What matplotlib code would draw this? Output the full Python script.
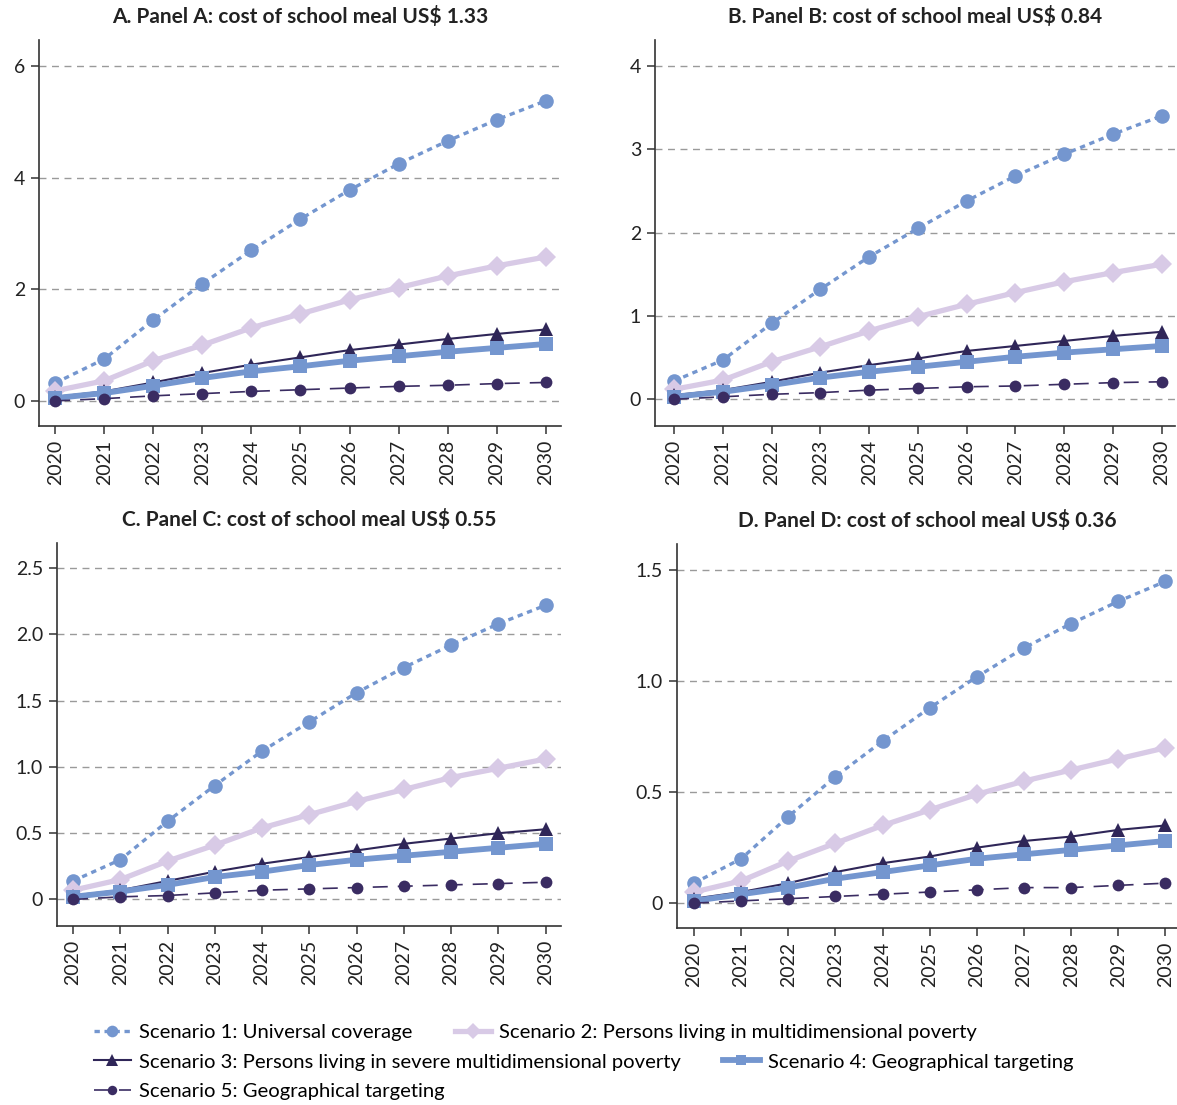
import matplotlib
matplotlib.use("Agg")
import matplotlib.pyplot as plt
from matplotlib.lines import Line2D

plt.rcParams['font.family'] = ['Lato', 'DejaVu Sans']

years = list(range(2020, 2031))

# Panel A: cost of school meal US$ 1.33
a_s1 = [0.32, 0.75, 1.45, 2.10, 2.70, 3.26, 3.78, 4.25, 4.66, 5.04, 5.38]
a_s2 = [0.18, 0.36, 0.72, 1.00, 1.31, 1.56, 1.81, 2.03, 2.24, 2.42, 2.58]
a_s3 = [0.07, 0.17, 0.33, 0.50, 0.65, 0.78, 0.91, 1.01, 1.11, 1.20, 1.28]
a_s4 = [0.05, 0.14, 0.27, 0.41, 0.53, 0.62, 0.72, 0.80, 0.88, 0.95, 1.02]
a_s5 = [0.00, 0.04, 0.09, 0.13, 0.17, 0.20, 0.23, 0.26, 0.28, 0.31, 0.33]

# Panel B: US$ 0.84
b_s1 = [0.22, 0.47, 0.91, 1.32, 1.71, 2.05, 2.38, 2.68, 2.94, 3.18, 3.40]
b_s2 = [0.12, 0.23, 0.45, 0.63, 0.82, 0.99, 1.14, 1.28, 1.41, 1.52, 1.62]
b_s3 = [0.05, 0.11, 0.21, 0.32, 0.41, 0.49, 0.58, 0.64, 0.70, 0.76, 0.81]
b_s4 = [0.03, 0.09, 0.17, 0.26, 0.33, 0.39, 0.45, 0.51, 0.56, 0.60, 0.64]
b_s5 = [0.00, 0.03, 0.06, 0.08, 0.11, 0.13, 0.15, 0.16, 0.18, 0.20, 0.21]

# Panel C: US$ 0.55
c_s1 = [0.14, 0.30, 0.59, 0.86, 1.12, 1.34, 1.56, 1.75, 1.92, 2.08, 2.22]
c_s2 = [0.07, 0.15, 0.29, 0.41, 0.54, 0.64, 0.74, 0.83, 0.92, 0.99, 1.06]
c_s3 = [0.03, 0.07, 0.14, 0.21, 0.27, 0.32, 0.37, 0.42, 0.46, 0.50, 0.53]
c_s4 = [0.02, 0.06, 0.11, 0.17, 0.21, 0.26, 0.30, 0.33, 0.36, 0.39, 0.42]
c_s5 = [0.00, 0.02, 0.03, 0.05, 0.07, 0.08, 0.09, 0.10, 0.11, 0.12, 0.13]

# Panel D: US$ 0.36
d_s1 = [0.09, 0.20, 0.39, 0.57, 0.73, 0.88, 1.02, 1.15, 1.26, 1.36, 1.45]
d_s2 = [0.05, 0.10, 0.19, 0.27, 0.35, 0.42, 0.49, 0.55, 0.60, 0.65, 0.70]
d_s3 = [0.02, 0.05, 0.09, 0.14, 0.18, 0.21, 0.25, 0.28, 0.30, 0.33, 0.35]
d_s4 = [0.01, 0.04, 0.07, 0.11, 0.14, 0.17, 0.20, 0.22, 0.24, 0.26, 0.28]
d_s5 = [0.00, 0.01, 0.02, 0.03, 0.04, 0.05, 0.06, 0.07, 0.07, 0.08, 0.09]

titles = ["A. Panel A: cost of school meal US$ 1.33",
          "B. Panel B: cost of school meal US$ 0.84",
          "C. Panel C: cost of school meal US$ 0.55",
          "D. Panel D: cost of school meal US$ 0.36"]

labels = ["Scenario 1: Universal coverage",
          "Scenario 2: Persons living in multidimensional poverty",
          "Scenario 3: Persons living in severe multidimensional poverty",
          "Scenario 4: Geographical targeting",
          "Scenario 5: Geographical targeting"]

# line styles per scenario
styles = [
    dict(color="#7496cf", lw=2.4, ls=(0, (1.6, 1.4)), marker="o", ms=10.5),
    dict(color="#d8cae6", lw=3.8, ls="-", marker="D", ms=10.5),
    dict(color="#2f2658", lw=1.5, ls="-", marker="^", ms=10.5),
    dict(color="#7496cf", lw=4.2, ls="-", marker="s", ms=9.5),
    dict(color="#3a2c62", lw=1.2, ls=(0, (9, 6)), marker="o", ms=8.5),
]

panels = [
    dict(data=[a_s1, a_s2, a_s3, a_s4, a_s5], pos=[0.0331, 0.6145, 0.4435, 0.3493],
         ylim=(-0.45, 6.47), yticks=[0, 2, 4, 6], ylabels=["0", "2", "4", "6"],
         xlim=(2019.67, 2030.31)),
    dict(data=[b_s1, b_s2, b_s3, b_s4, b_s5], pos=[0.5565, 0.6145, 0.4418, 0.3493],
         ylim=(-0.32, 4.31), yticks=[0, 1, 2, 3, 4], ylabels=["0", "1", "2", "3", "4"],
         xlim=(2019.61, 2030.27)),
    dict(data=[c_s1, c_s2, c_s3, c_s4, c_s5], pos=[0.0484, 0.162, 0.428, 0.3466],
         ylim=(-0.2, 2.69), yticks=[0, 0.5, 1, 1.5, 2, 2.5],
         ylabels=["0", "0.5", "1.0", "1.5", "2.0", "2.5"],
         xlim=(2019.66, 2030.32)),
    dict(data=[d_s1, d_s2, d_s3, d_s4, d_s5], pos=[0.5752, 0.160, 0.425, 0.348],
         ylim=(-0.113, 1.62), yticks=[0, 0.5, 1, 1.5], ylabels=["0", "0.5", "1.0", "1.5"],
         xlim=(2019.64, 2030.25)),
]

fig = plt.figure(figsize=(11.77, 11.05), dpi=100)

for p, title in zip(panels, titles):
    ax = fig.add_axes(p["pos"])
    for series, st in zip(p["data"], styles):
        ax.plot(years, series, color=st["color"], lw=st["lw"], ls=st["ls"],
                marker=st["marker"], ms=st["ms"], markeredgewidth=0)
    ax.set_xlim(*p["xlim"])
    ax.set_ylim(*p["ylim"])
    ax.set_yticks(p["yticks"])
    ax.set_yticklabels(p["ylabels"])
    ax.set_xticks(years)
    ax.set_xticklabels([str(y) for y in years], rotation=90)
    for y in p["yticks"]:
        ax.axhline(y, color="#9a9a9a", lw=1.0, ls=(0, (5, 4)), zorder=0)
    for s in ["top", "right"]:
        ax.spines[s].set_visible(False)
    for s in ["left", "bottom"]:
        ax.spines[s].set_color("#333333")
        ax.spines[s].set_linewidth(1.2)
    ax.tick_params(axis="both", direction="out", length=6, width=1.1, color="#333333",
                   labelsize=14, labelcolor="#222222", pad=4)
    ax.set_title(title, fontsize=15, fontweight="bold", color="#222222", pad=12)

# legend rows
def handle(st):
    return Line2D([], [], color=st["color"], lw=st["lw"], ls=st["ls"],
                  marker=st["marker"], ms=st["ms"] * 0.8, markeredgewidth=0)

rows = [([0, 1], 0.066), ([2, 3], 0.039), ([4], 0.012)]
for idx, yy in rows:
    fig.legend([handle(styles[i]) for i in idx], [labels[i] for i in idx],
               loc="center left", bbox_to_anchor=(0.08, yy), ncol=len(idx),
               frameon=False, fontsize=14.6, handlelength=1.8, handletextpad=0.4,
               columnspacing=2.1, borderaxespad=0, borderpad=0)

fig.savefig("out.png", dpi=100, facecolor="white")
